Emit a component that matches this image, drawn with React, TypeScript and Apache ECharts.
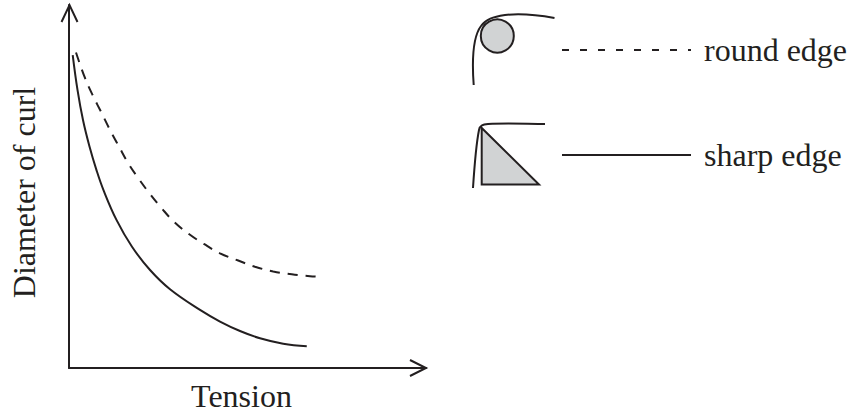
import React, { useEffect, useRef } from "react";
import * as echarts from "echarts";

const INK = "#231f20";
const GREY = "#d1d3d4";
const FONT = "'Liberation Serif', 'Times New Roman', serif";

const xAxisName = "Tension";
const yAxisName = "Diameter of curl";
const roundEdgeName = "round edge";
const sharpEdgeName = "sharp edge";

const roundEdgeTension = [1.96, 4.48, 6.81, 9.16, 11.48, 14.0, 16.6, 19.4, 22.7, 25.96, 29.4, 33.6, 37.9, 42.3, 47.4, 52.1, 57.2, 62.4, 67.5, 70.5];
const roundEdgeCurl = [86.9, 79.9, 74.8, 70.2, 65.6, 61.0, 56.4, 52.3, 47.9, 44.0, 40.3, 36.9, 34.1, 31.6, 29.6, 27.9, 26.6, 25.8, 25.3, 25.1];
const sharpEdgeTension = [1.04, 2.38, 3.92, 5.74, 7.7, 9.66, 13.3, 17.65, 22.7, 28.3, 36.7, 42.3, 47.9, 53.5, 60.0, 66.6];
const sharpEdgeCurl = [86.2, 76.6, 68.3, 61.0, 54.5, 49.0, 40.8, 33.4, 27.0, 21.7, 16.0, 12.8, 10.2, 8.2, 6.7, 6.0];

const zip = (a: number[], b: number[]) => a.map((v, i) => [v, b[i]]);

echarts.graphic.registerShape(
  "roundWrap",
  echarts.graphic.extendPath("M473.7 85 C472 62 472 38 481 26 C486 19 493 17 505 15 C522 13 538 15 554.5 18", {}) as any
);
echarts.graphic.registerShape(
  "sharpWrap",
  echarts.graphic.extendPath("M473 188 C474.5 165 476 145 479 130 C480 125 483 124.5 488 124 C508 123 528 124 545 124", {}) as any
);

export default function App() {
  const ref = useRef<HTMLDivElement>(null);
  useEffect(() => {
    document.body.style.margin = "0";
    const chart = echarts.init(ref.current!, undefined, { renderer: "svg" });
    const axisBase = {
      type: "value" as const,
      min: 0,
      max: 100,
      splitLine: { show: false },
      axisTick: { show: false },
      axisLabel: { show: false },
      axisLine: { show: true, lineStyle: { color: INK, width: 2 } },
      nameLocation: "middle" as const,
    };
    const nameStyle = { color: INK, fontFamily: FONT, fontSize: 32 };
    chart.setOption({
      animation: false,
      backgroundColor: "#ffffff",
      grid: { left: 69, right: 423, top: 5, bottom: 45, outerBoundsMode: "none" },
      xAxis: {
        ...axisBase,
        name: xAxisName,
        nameGap: 12,
        nameTextStyle: { ...nameStyle, padding: [0, 12, 0, 0] },
      },
      yAxis: {
        ...axisBase,
        name: yAxisName,
        nameGap: 29,
        nameTextStyle: { ...nameStyle, padding: [0, 12, 0, 0] },
      },
      legend: {
        orient: "vertical",
        left: 561,
        top: 31,
        padding: 0,
        itemWidth: 129,
        itemHeight: 30,
        itemGap: 67,
        itemStyle: { color: "transparent", borderWidth: 0, opacity: 0 },
        data: [
          { name: roundEdgeName, lineStyle: { type: [7, 11] } },
          { name: sharpEdgeName },
        ],
        textStyle: { color: INK, fontFamily: FONT, fontSize: 32, lineHeight: 32, height: 38, padding: [0, 0, 0, 8] },
      },
      series: [
        {
          name: roundEdgeName,
          type: "line",
          smooth: 0.4,
          symbol: "none",
          data: zip(roundEdgeTension, roundEdgeCurl),
          lineStyle: { color: INK, width: 2, type: [10, 8] },
          itemStyle: { color: INK },
        },
        {
          name: sharpEdgeName,
          type: "line",
          smooth: 0.4,
          symbol: "none",
          data: zip(sharpEdgeTension, sharpEdgeCurl),
          lineStyle: { color: INK, width: 2 },
          itemStyle: { color: INK },
        },
      ],
      graphic: [
        { type: "polyline", shape: { points: [[61.5, 22], [69.5, 5], [77.5, 22]] }, style: { stroke: INK, fill: "none", lineWidth: 2 } },
        { type: "polyline", shape: { points: [[410, 360], [426, 368], [410, 376]] }, style: { stroke: INK, fill: "none", lineWidth: 2 } },
        { type: "circle", shape: { cx: 497.3, cy: 36, r: 16.5 }, style: { fill: GREY, stroke: INK, lineWidth: 2 } },
        { type: "roundWrap", style: { fill: "none", stroke: INK, lineWidth: 2 } },
        { type: "polygon", shape: { points: [[481.7, 128], [481.7, 184.5], [539, 184.5]] }, style: { fill: GREY, stroke: INK, lineWidth: 2 } },
        { type: "sharpWrap", style: { fill: "none", stroke: INK, lineWidth: 2 } },
      ],
    });
    return () => chart.dispose();
  }, []);
  return <div ref={ref} style={{ width: 849, height: 413 }} />;
}
